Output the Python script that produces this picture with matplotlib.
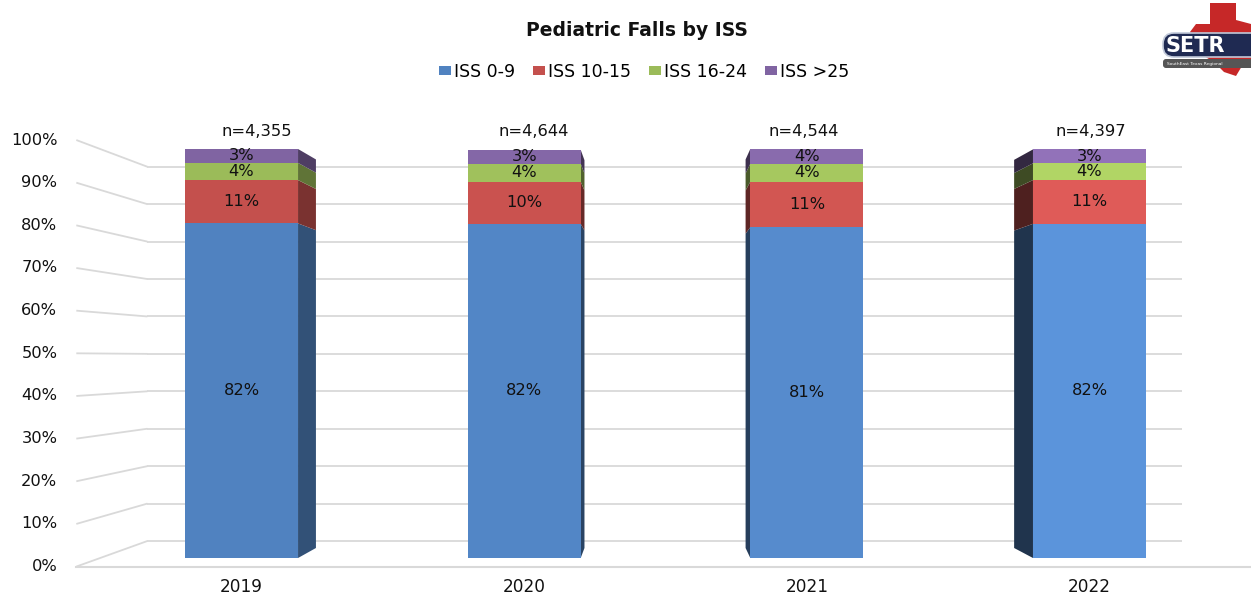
import matplotlib
matplotlib.use('Agg')
import matplotlib.pyplot as plt
from matplotlib.patches import Polygon, Patch, FancyBboxPatch
import matplotlib.transforms as mtransforms
import numpy as np

# ---------------- data ----------------
years = ['2019', '2020', '2021', '2022']
n_labels = ['n=4,355', 'n=4,644', 'n=4,544', 'n=4,397']
series_names = ['ISS 0-9', 'ISS 10-15', 'ISS 16-24', 'ISS >25']
iss_0_9 = [81.8, 81.7, 80.9, 81.7]
iss_10_15 = [10.6, 10.3, 11.1, 10.7]
iss_16_24 = [4.2, 4.4, 4.4, 4.1]
iss_gt25 = [3.4, 3.4, 3.6, 3.4]
ytick_values = [0, 10, 20, 30, 40, 50, 60, 70, 80, 90, 100]

series_values = [iss_0_9, iss_10_15, iss_16_24, iss_gt25]

# ---------------- style / layout ----------------
W, H = 1251, 598
base_colors = [(80, 130, 192), (196, 80, 77), (155, 187, 89), (128, 100, 162)]
front_gain = [1.0, 1.03, 1.07, 1.14]      # lighting per bar
side_gain = [0.62, 0.52, 0.48, 0.40]

def col(rgb, g):
    return tuple(min(1.0, c * g / 255.0) for c in rgb)

X_ORIGIN_PX, PX_PER_X = 241.5, 282.67
Y_ORIGIN_PX, PX_PER_Y = 558.0, 4.09
bar_width = 0.40

# perspective (in data coordinates)
VX = (656 - X_ORIGIN_PX) / PX_PER_X
VY = (Y_ORIGIN_PX - 358) / PX_PER_Y
K_BAR_BACK = 0.95
K_WALL = 0.915
K_FRONT = 1.0429
WALL_L, WALL_R = -0.5, 3.5

def P(x, y, k):
    return VX + (x - VX) * k, VY + (y - VY) * k

fig = plt.figure(figsize=(W / 100, H / 100), dpi=100)
ax = fig.add_axes([0, 0, 1, 1])
ax.set_xlim(-X_ORIGIN_PX / PX_PER_X, (W - X_ORIGIN_PX) / PX_PER_X)
ax.set_ylim((Y_ORIGIN_PX - H) / PX_PER_Y, Y_ORIGIN_PX / PX_PER_Y)
ax.axis('off')

txt_c = '#111111'
grid_c = '#D9D9D9'
# back wall + left wall grid lines
for v in ytick_values:
    x1, y1 = P(WALL_L, v, K_WALL)
    x2, y2 = P(WALL_R, v, K_WALL)
    ax.plot([x1, x2], [y1, y2], color=grid_c, lw=1.3, zorder=0, solid_capstyle='butt')
    x0, y0 = P(WALL_L, v, K_FRONT)
    ax.plot([x0, x1], [y0, y1], color=grid_c, lw=1.3, zorder=0, solid_capstyle='butt')
    ax.text(x0, y0, f'{v}%', ha='right', va='center', fontsize=11.7, color=txt_c,
            transform=mtransforms.offset_copy(ax.transData, fig=fig, x=-19, y=0, units='dots'))
# floor front edge
fx0, fy0 = P(WALL_L, 0, K_FRONT)
ax.plot([fx0, ax.get_xlim()[1]], [fy0, fy0], color=grid_c, lw=1.5, zorder=0)

xs = np.arange(len(years))
bottoms = np.zeros(len(years))
for j, vals in enumerate(series_values):
    vals = np.array(vals)
    fronts = [col(base_colors[j], front_gain[i]) for i in range(len(years))]
    ax.bar(xs, vals, bottom=bottoms, width=bar_width, color=fronts, linewidth=0, zorder=3)
    for i in range(len(years)):
        b, t = bottoms[i], bottoms[i] + vals[i]
        xe = xs[i] + bar_width / 2 if xs[i] + bar_width / 2 < VX else xs[i] - bar_width / 2
        pb = P(xe, b, K_BAR_BACK)
        pt = P(xe, t, K_BAR_BACK)
        ax.add_patch(Polygon([(xe, b), (xe, t), pt, pb], closed=True,
                             facecolor=col(base_colors[j], side_gain[i]), edgecolor='none', zorder=2))
        ax.text(xs[i], b + vals[i] / 2, f'{vals[i]:.0f}%', ha='center', va='center',
                fontsize=11.7, color=txt_c, zorder=5)
    bottoms = bottoms + vals

# n labels and year labels
n_dx = [0.053, 0.035, -0.011, 0.004]
for i in range(len(years)):
    ax.text(xs[i] + n_dx[i], (Y_ORIGIN_PX - 132) / PX_PER_Y, n_labels[i], ha='center', va='center',
            fontsize=11.8, color=txt_c)
    ax.text(xs[i], (Y_ORIGIN_PX - 587) / PX_PER_Y, years[i], ha='center', va='center',
            fontsize=12.2, color=txt_c)

# title & legend
fig.text(637 / W, 1 - 30 / H, 'Pediatric Falls by ISS', ha='center', va='center',
         fontsize=13.5, fontweight='bold', color=txt_c)
handles = [Patch(facecolor=col(base_colors[j], 1.0), edgecolor='none') for j in range(4)]
fig.legend(handles, series_names, loc='center', bbox_to_anchor=(644 / W, 1 - 72 / H), ncol=4,
           frameon=False, fontsize=12.5, handlelength=0.7, handleheight=0.45, handletextpad=0.2,
           columnspacing=1.0, borderpad=0)

# logo (decoration)
lax = fig.add_axes([1158 / W, 1 - 76 / H, (W - 1158) / W, 76 / H])
lax.set_xlim(1158, W)
lax.set_ylim(76, 0)
lax.axis('off')
texas = [(1210, 3), (1236, 3), (1236, 20), (1251, 24), (1251, 62), (1242, 66), (1236, 76),
         (1224, 72), (1214, 62), (1202, 55), (1194, 44), (1190, 32), (1196, 24), (1210, 24)]
lax.add_patch(Polygon(texas, closed=True, facecolor='#C62828', edgecolor='none', zorder=1))
lax.add_patch(FancyBboxPatch((1163, 33), 100, 24, boxstyle='round,pad=0,rounding_size=11',
                             facecolor='#1F2A52', edgecolor='#C0C8D8', lw=1.2, zorder=2))
lax.text(1166, 45.5, 'SETR', ha='left', va='center', fontsize=15, fontweight='bold',
         color='white', zorder=3)
lax.add_patch(FancyBboxPatch((1163, 59), 100, 9, boxstyle='round,pad=0,rounding_size=3',
                             facecolor='#555555', edgecolor='none', zorder=2))
lax.text(1167, 63.5, 'SouthEast Texas Regional', ha='left', va='center',
         fontsize=3.2, color='white', zorder=3)

fig.savefig('out.png', dpi=100)
